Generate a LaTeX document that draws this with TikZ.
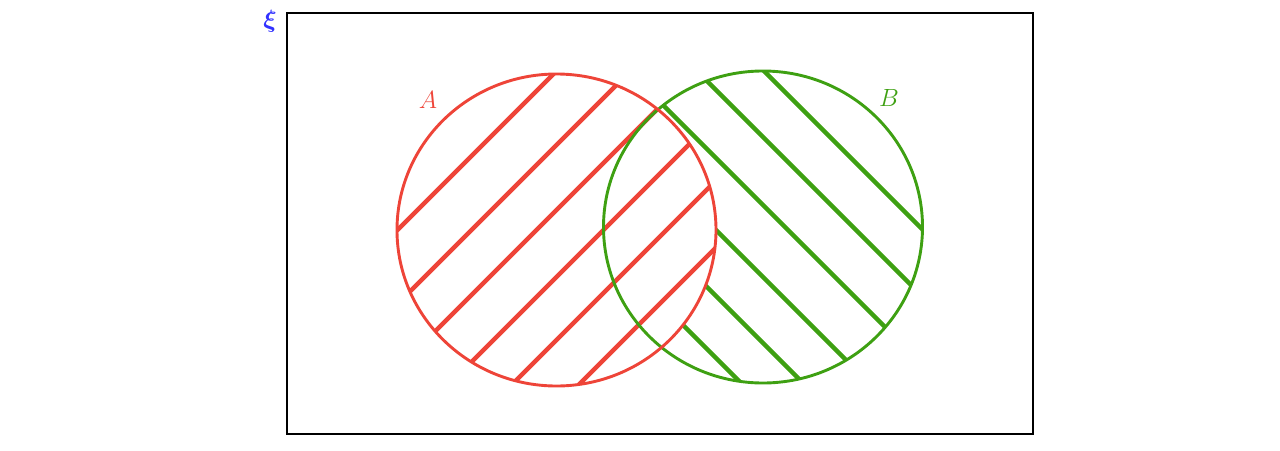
\documentclass[tikz,border=0pt]{standalone}
\usepackage{amsmath}
\definecolor{ared}{RGB}{238,68,56}
\definecolor{bgreen}{RGB}{62,160,18}
\definecolor{xiblue}{RGB}{50,50,255}
\tikzset{
  frame/.style={draw=black,line width=2.8pt},
  ringA/.style={draw=ared,line width=2.9pt},
  ringB/.style={draw=bgreen,line width=2.9pt},
  hatchA/.style={draw=ared,line width=4.4pt},
  hatchB/.style={draw=bgreen,line width=4.4pt},
  lbl/.style={inner sep=0pt,font=\fontsize{26}{26}\selectfont}
}
\begin{document}
\begin{tikzpicture}[x=1pt,y=-1pt]
\useasboundingbox (0,0) rectangle (1280,450);
% universal set
\draw[frame] (287,13) rectangle (1033,434);
\node[lbl,text=xiblue] (xi) at (270,21) {$\boldsymbol{\xi}$};
% green hatching in B
\begin{scope}
  \clip (763,227) ellipse (159.5 and 156);
  \foreach \k in {693,626,558,486,420,358}
    \draw[hatchB] ({590},{590-\k}) -- ({940},{940-\k});
\end{scope}
% blank A
\fill[white] (556.5,230) ellipse (159.5 and 156);
% red hatching in A
\begin{scope}
  \clip (556.5,230) ellipse (159.5 and 156);
  \foreach \k in {627.5,701.5,766.5,833.5,896.5,963.5}
    \draw[hatchA] ({380},{\k-380}) -- ({740},{\k-740});
\end{scope}
% outlines
\draw[ringB] (763,227) ellipse (159.5 and 156);
\draw[ringA] (556.5,230) ellipse (159.5 and 156);
\node[lbl,text=ared] (la) at (428,100) {$A$};
\node[lbl,text=bgreen] (lb) at (889,98) {$B$};
\end{tikzpicture}
\end{document}
